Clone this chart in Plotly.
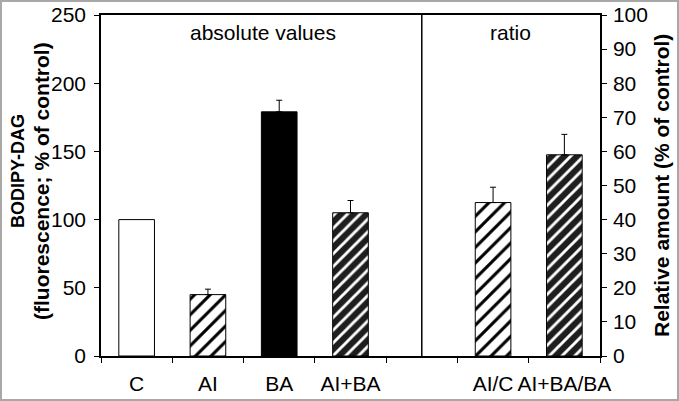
import plotly.graph_objects as go

# ---- data ----
categories = ["C", "AI", "BA", "AI+BA", " ", "AI/C", "AI+BA/BA"]
abs_labels = ["C", "AI", "BA", "AI+BA"]
abs_values = [100, 45, 179, 105]
abs_errors = [0, 4, 8.5, 9]
ratio_labels = ["AI/C", "AI+BA/BA"]
ratio_values = [45, 59]
ratio_errors = [4.5, 6]
left_ticks = [0, 50, 100, 150, 200, 250]
right_ticks = list(range(0, 101, 10))

FONT = "Liberation Sans"
DARK = "#1e1e1e"

# bar appearance per category: (background, stripe colour or None)
style = {
    "C": ("white", None),
    "AI": ("white", "black"),
    "BA": ("black", None),
    "AI+BA": (DARK, "white"),
    "AI/C": ("white", "black"),
    "AI+BA/BA": (DARK, "white"),
}

fig = go.Figure()


def add_bar(label, value, err, axis):
    bg, fg = style[label]
    pattern = dict(shape="")
    if fg is not None:
        dark = fg == "white"
        pattern = dict(shape="/", fillmode="overlay", fgcolor=fg, fgopacity=1,
                       size=9 if dark else 11, solidity=0.32 if dark else 0.28)
    fig.add_trace(go.Bar(
        x=[label], y=[value], width=0.5,
        marker=dict(color=bg, line=dict(color="black", width=1), pattern=pattern),
        error_y=dict(type="data", array=[err], arrayminus=[0], symmetric=False,
                     color="black", thickness=1, width=3, visible=err > 0),
        yaxis=axis, showlegend=False, hoverinfo="x+y",
    ))


for lab, v, e in zip(abs_labels, abs_values, abs_errors):
    add_bar(lab, v, e, "y")
for lab, v, e in zip(ratio_labels, ratio_values, ratio_errors):
    add_bar(lab, v, e, "y2")

# divider between absolute values and ratio panels
sep = categories.index(" ")
fig.add_shape(type="line", xref="x", yref="paper", x0=sep, x1=sep, y0=0, y1=1,
              line=dict(color="black", width=1.5))

W, H = 679, 401
L, R, T, B = 101, 79, 15, 45
pw, ph = W - L - R, H - T - B


def px(x):
    return (x - L) / pw


def py(y):
    return (H - B - y) / ph


# outer grey frame of the image
fig.add_shape(type="rect", xref="paper", yref="paper",
              x0=px(1), x1=px(W - 1), y0=py(H - 1), y1=py(1),
              line=dict(color="#a8a8a8", width=2), layer="below")

ann = dict(showarrow=False, xanchor="center", yanchor="middle")
fig.add_annotation(text="absolute values", x=1.77, xref="x", y=py(33), yref="paper",
                   font=dict(size=21, color="black", family=FONT), **ann)
fig.add_annotation(text="ratio", x=5.25, xref="x", y=py(33), yref="paper",
                   font=dict(size=21, color="black", family=FONT), **ann)

# axis titles
fig.add_annotation(text="<b>BODIPY-DAG</b>", x=px(18), y=py(171), xref="paper", yref="paper",
                   textangle=-90, font=dict(size=18, color="black", family=FONT), **ann)
fig.add_annotation(text="<b>(fluorescence; % of control)</b>", x=px(41), y=py(181),
                   xref="paper", yref="paper", textangle=-90,
                   font=dict(size=21, color="black", family=FONT), **ann)
fig.add_annotation(text="<b>Relative amount (% of control)</b>", x=px(661), y=py(186),
                   xref="paper", yref="paper", textangle=-90,
                   font=dict(size=21, color="black", family=FONT), **ann)

axis_common = dict(ticks="outside", ticklen=5, tickwidth=1, tickcolor="black",
                   showline=True, linecolor="black", linewidth=1.5,
                   showgrid=False, zeroline=False, automargin=False)

fig.update_layout(
    width=W, height=H,
    margin=dict(l=L, r=R, t=T, b=B),
    paper_bgcolor="white", plot_bgcolor="white",
    barmode="overlay",
    font=dict(family=FONT, color="black", size=21),
    xaxis=dict(
        type="category", categoryorder="array", categoryarray=categories,
        range=[-0.5, 6.5], tickson="boundaries", tickangle=0, mirror=True,
        ticklabelstandoff=8, tickfont=dict(size=21), **axis_common,
    ),
    yaxis=dict(range=[0, 250], tickvals=left_ticks, tickfont=dict(size=21),
               ticklabelstandoff=4, **axis_common),
    yaxis2=dict(range=[0, 100], tickvals=right_ticks, overlaying="y", side="right",
                tickfont=dict(size=21), ticklabelstandoff=2, **axis_common),
)

fig.write_html("out.html", config={"displayModeBar": False},
               post_script="document.body.style.margin='0';document.body.style.overflow='hidden';")
